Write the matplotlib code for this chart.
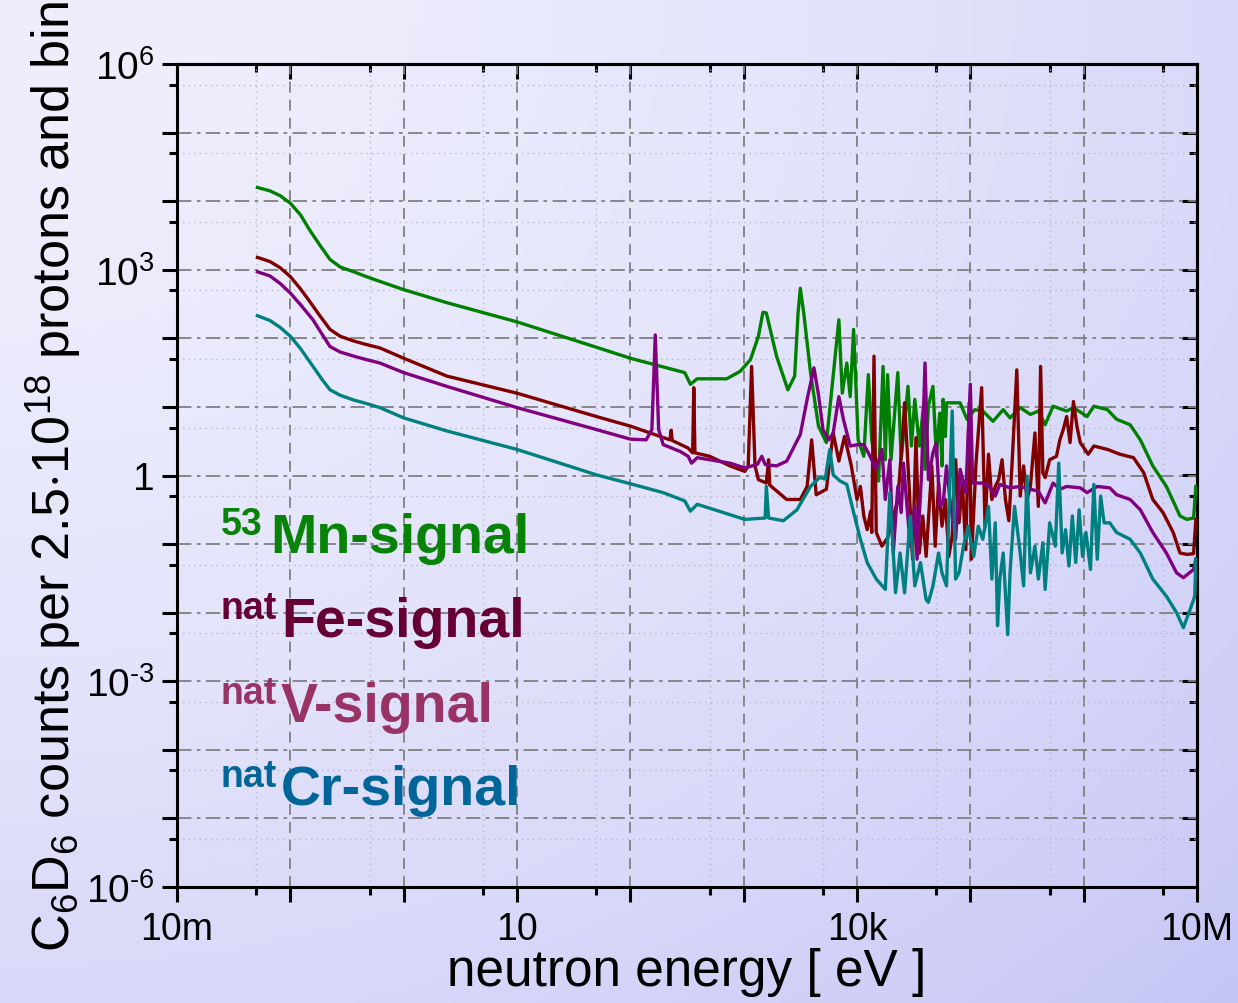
import matplotlib
matplotlib.use("Agg")
import matplotlib.pyplot as plt
import matplotlib.ticker as mticker
import numpy as np

plt.rcParams['font.family'] = ['Liberation Sans', 'DejaVu Sans']
plt.rcParams['mathtext.fontset'] = 'custom'
plt.rcParams['mathtext.rm'] = 'Liberation Sans'
plt.rcParams['mathtext.it'] = 'Liberation Sans:italic'
plt.rcParams['mathtext.bf'] = 'Liberation Sans:bold'

# values, as log10(energy / eV) and log10(counts)
mn_log_e = [-1.29, -1.18, -1.09, -1.00, -0.91, -0.83, -0.74, -0.65, -0.56, -0.44, -0.33, -0.21, 0.00,
            0.38, 1.00, 1.70, 2.00, 2.48, 2.53, 2.59,
            2.85, 2.97, 3.06, 3.13, 3.17, 3.20, 3.29, 3.39, 3.45, 3.48, 3.50, 3.53, 3.59, 3.66, 3.73,
            3.84, 3.87, 3.91, 3.94, 3.97, 4.01, 4.06, 4.10, 4.13, 4.19, 4.23, 4.25, 4.27, 4.30, 4.36,
            4.39, 4.45, 4.48, 4.51, 4.55, 4.59, 4.60, 4.63, 4.67, 4.70, 4.73, 4.75, 4.76, 4.78, 4.79,
            4.85, 4.91, 4.97, 5.04, 5.11, 5.20, 5.29, 5.35, 5.44, 5.53, 5.60, 5.66, 5.73, 5.85, 5.91,
            6.03, 6.09, 6.21, 6.29, 6.41, 6.50, 6.61, 6.73, 6.85, 6.91, 6.97, 6.99]
mn_log_c = [4.20, 4.15, 4.08, 3.97, 3.80, 3.58, 3.36, 3.15, 3.04, 2.97, 2.90, 2.83, 2.71,
            2.52, 2.24, 1.87, 1.71, 1.50, 1.33, 1.41,
            1.41, 1.52, 1.69, 2.03, 2.38, 2.37, 1.74, 1.25, 1.45, 2.37, 2.73, 2.37, 1.50, 0.72, 0.48,
            2.27, 1.20, 1.64, 1.15, 2.13, 0.52, 0.28, 1.47, 0.52, -0.08, 1.59, 0.23, 1.47, 0.23, 1.50,
            0.23, 1.30, 0.43, 1.11, 0.43, 1.06, 0.09, 1.01, 1.30, 0.28, 0.91, 0.14, 1.11, 0.57, 1.06,
            1.06, 1.06, 0.82, 0.96, 0.94, 0.79, 0.96, 0.84, 0.99, 0.89, 0.94, 0.74, 1.01, 0.94, 0.99,
            0.86, 1.01, 0.96, 0.82, 0.74, 0.52, 0.14, -0.16, -0.59, -0.64, -0.62, -0.16]

fe_log_e = [-1.29, -1.18, -1.09, -1.00, -0.91, -0.83, -0.74, -0.65, -0.56, -0.44, -0.33, -0.21, 0.00,
            0.38, 1.00, 1.70, 2.00, 2.35, 2.36, 2.37,
            2.51, 2.55, 2.56, 2.57, 2.70, 2.88, 3.01, 3.04, 3.07, 3.10, 3.13, 3.20, 3.22, 3.23, 3.38,
            3.50, 3.56, 3.60, 3.64, 3.73, 3.79, 3.84, 3.89, 3.95, 4.00, 4.03, 4.06, 4.09, 4.12, 4.13,
            4.15, 4.17, 4.22, 4.27, 4.30, 4.36, 4.40, 4.42, 4.46, 4.49, 4.52, 4.55, 4.58, 4.61, 4.66,
            4.69, 4.72, 4.75, 4.78, 4.81, 4.84, 4.87, 4.90, 4.93, 4.96, 4.99, 5.01, 5.05, 5.10, 5.13,
            5.16, 5.19, 5.22, 5.25, 5.28, 5.31, 5.34, 5.37, 5.41, 5.44, 5.47, 5.50, 5.53, 5.57, 5.60,
            5.62, 5.64, 5.66, 5.70, 5.76, 5.79, 5.82, 5.85, 5.88, 5.91, 5.94, 5.97, 6.04, 6.09, 6.21,
            6.32, 6.44, 6.53, 6.61, 6.70, 6.79, 6.85, 6.91, 6.97, 6.99]
fe_log_c = [3.18, 3.12, 3.03, 2.90, 2.72, 2.54, 2.33, 2.13, 2.03, 1.96, 1.91, 1.86, 1.71,
            1.45, 1.20, 0.86, 0.72, 0.52, 0.66, 0.51,
            0.40, 0.33, 1.28, 0.33, 0.28, 0.14, 0.06, 0.14, 1.59, 0.14, -0.06, -0.11, 0.23, -0.14, -0.35,
            -0.35, -0.16, 0.52, -0.28, -0.20, 0.62, 0.21, 0.57, 0.14, -0.35, -0.16, -0.59, -0.79, -0.52, -0.83,
            1.74, -0.83, -1.03, -0.91, -0.74, -0.35, 0.52, 1.06, -0.16, -1.22, 0.55, -1.13, -0.59, -1.18, 0.14,
            -1.03, -0.11, -0.74, -0.35, -1.18, -0.88, 0.23, -0.69, -0.11, -1.08, 1.06, -1.22, 0.18, 1.28, -0.74,
            0.31, -0.35, -0.16, -0.06, 0.23, -0.35, -0.66, 0.23, 1.54, -0.30, 0.14, -0.35, -0.16, 0.62, -0.45,
            1.59, 0.04, -0.03, 0.23, 0.28, 0.52, 0.67, 0.86, 0.48, 1.08, 0.72, 0.48, 0.31, 0.43, 0.38,
            0.31, 0.26, 0.04, -0.35, -0.54, -0.83, -1.13, -1.15, -1.14, -0.64]

v_log_e = [-1.29, -1.18, -1.09, -1.00, -0.91, -0.80, -0.72, -0.65, -0.56, -0.44, -0.33, -0.21, 0.00,
           0.38, 1.00, 1.70, 2.00, 2.14, 2.19, 2.22,
           2.25, 2.29, 2.44, 2.51, 2.54, 2.59, 2.88, 3.01, 3.12, 3.16, 3.19, 3.29, 3.38, 3.50, 3.56,
           3.62, 3.66, 3.70, 3.75, 3.79, 3.84, 3.88, 3.94, 4.01, 4.06, 4.10, 4.17, 4.22, 4.25, 4.29,
           4.32, 4.36, 4.39, 4.41, 4.47, 4.51, 4.53, 4.57, 4.60, 4.63, 4.67, 4.70, 4.73, 4.76, 4.79,
           4.82, 4.87, 4.91, 4.96, 5.00, 5.02, 5.11, 5.17, 5.22, 5.26, 5.35, 5.44, 5.53, 5.60, 5.66,
           5.73, 5.79, 5.85, 5.97, 6.03, 6.12, 6.23, 6.29, 6.41, 6.50, 6.61, 6.73, 6.82, 6.88, 6.97, 6.99]
v_log_c = [2.97, 2.91, 2.80, 2.66, 2.49, 2.27, 2.06, 1.88, 1.80, 1.74, 1.69, 1.64, 1.50,
           1.30, 0.99, 0.67, 0.53, 0.52, 0.67, 2.05,
           0.67, 0.45, 0.35, 0.28, 0.18, 0.26, 0.18, 0.11, 0.16, 0.28, 0.16, 0.14, 0.21, 0.60, 1.11,
           1.57, 1.18, 0.67, 0.52, 0.62, 1.15, 0.82, 0.43, 0.45, 0.45, 0.33, 0.09, 0.38, -0.35, 0.23,
           -1.13, -0.16, -0.54, 0.18, -1.03, -0.45, -1.22, 0.04, 1.64, -0.06, 0.33, 0.48, -0.45, -0.40, 0.14,
           -0.35, -0.93, 0.09, -0.25, 1.33, -0.11, -0.11, -0.16, -0.30, -0.13, -0.18, -0.16, -0.20, -0.23, -0.40,
           -0.11, -0.20, -0.16, -0.18, -0.25, -0.16, -0.18, -0.28, -0.35, -0.50, -0.83, -1.13, -1.42, -1.49, -1.37, -1.22]

cr_log_e = [-1.29, -1.18, -1.09, -1.00, -0.91, -0.80, -0.72, -0.65, -0.56, -0.44, -0.33, -0.21, 0.00,
            0.38, 1.00, 1.70, 2.00, 2.29, 2.48, 2.53,
            2.59, 2.82, 3.01, 3.19, 3.20, 3.22, 3.35, 3.47, 3.59, 3.67, 3.72, 3.76, 3.79, 3.85, 3.91,
            3.97, 4.03, 4.09, 4.17, 4.25, 4.29, 4.34, 4.38, 4.42, 4.47, 4.51, 4.56, 4.61, 4.63, 4.67,
            4.72, 4.75, 4.79, 4.84, 4.87, 4.90, 4.94, 4.98, 5.03, 5.07, 5.11, 5.16, 5.19, 5.22, 5.24,
            5.26, 5.29, 5.33, 5.35, 5.39, 5.44, 5.47, 5.50, 5.53, 5.57, 5.60, 5.64, 5.66, 5.70, 5.75,
            5.78, 5.81, 5.84, 5.87, 5.90, 5.93, 5.96, 5.99, 6.02, 6.06, 6.09, 6.12, 6.15, 6.18, 6.23,
            6.29, 6.41, 6.50, 6.61, 6.73, 6.82, 6.88, 6.94, 6.98, 6.99]
cr_log_c = [2.33, 2.26, 2.16, 2.03, 1.85, 1.59, 1.40, 1.25, 1.17, 1.10, 1.05, 0.99, 0.84,
            0.65, 0.38, 0.01, -0.12, -0.25, -0.37, -0.52,
            -0.42, -0.54, -0.64, -0.62, -0.16, -0.62, -0.66, -0.50, -0.16, -0.03, -0.05, 0.38, 0.01, -0.08, -0.13,
            -0.54, -0.93, -1.27, -1.51, -1.66, -0.25, -1.71, -1.13, -1.71, -0.59, -1.61, -1.27, -1.81, -1.85, -1.61,
            -1.13, -1.42, -1.61, 0.94, -1.51, -1.42, -1.03, -0.74, -1.18, -0.74, -0.93, -0.45, -1.51, -0.69, -2.19,
            -1.51, -1.13, -2.32, -1.42, -0.45, -1.13, -1.61, -0.01, -1.42, -1.03, -1.51, -0.98, -1.66, -0.69, -1.03,
            0.18, -1.13, -0.79, -1.32, -0.59, -1.27, -0.50, -1.18, -0.83, -1.37, -0.13, -1.22, -0.30, -0.69, -0.69,
            -0.83, -0.93, -1.13, -1.51, -1.76, -2.00, -2.22, -1.95, -1.76, -1.22]

x_labels = {-2: '10m', 1: '10', 4: '10k', 7: '10M'}
y_labels = {-6: r'$10^{\text{-}6}$', -3: r'$10^{\text{-}3}$', 0: '1', 3: r'$10^{3}$', 6: r'$10^{6}$'}

fig = plt.figure(figsize=(12.38, 10.04), dpi=100)

# background gradient over the whole figure
bg = fig.add_axes([0, 0, 1, 1], zorder=-5)
gx, gy = np.meshgrid(np.linspace(0, 1, 300), np.linspace(0, 1, 300))
t = np.clip((gx ** 2 + gy ** 2) / 2, 0, 1) ** 0.9
c0 = np.array([238, 238, 253]) / 255
c1 = np.array([198, 198, 246]) / 255
img = c0 + (c1 - c0) * t[..., None]
bg.imshow(img, aspect='auto', extent=[0, 1, 0, 1], origin='upper')
bg.axis('off')

ax = fig.add_axes([177 / 1238, 1 - 888 / 1004, 1020 / 1238, 823 / 1004])
ax.set_facecolor('none')

series = [
    (mn_log_e, mn_log_c, '#008000'),
    (fe_log_e, fe_log_c, '#800000'),
    (v_log_e, v_log_c, '#800080'),
    (cr_log_e, cr_log_c, '#008080'),
]
for le, lc, col in series:
    ax.plot(10 ** np.array(le), 10 ** np.array(lc), color=col, lw=2.4, zorder=3,
            solid_joinstyle='round')

ax.set_xscale('log')
ax.set_yscale('log')
ax.set_xlim(1e-2, 1e7)
ax.set_ylim(1e-6, 1e6)

x_major = [10.0 ** k for k in range(-2, 8)]
x_minor = [5 * 10.0 ** k for k in range(-2, 7)]
y_major = [10.0 ** k for k in range(-6, 7)]
y_minor = [5 * 10.0 ** k for k in range(-6, 6)]

ax.xaxis.set_major_locator(mticker.FixedLocator(x_major))
ax.xaxis.set_minor_locator(mticker.FixedLocator(x_minor))
ax.yaxis.set_major_locator(mticker.FixedLocator(y_major))
ax.yaxis.set_minor_locator(mticker.FixedLocator(y_minor))
ax.xaxis.set_major_formatter(mticker.FuncFormatter(
    lambda v, p: x_labels.get(int(round(np.log10(v))), '')))
ax.yaxis.set_major_formatter(mticker.FuncFormatter(
    lambda v, p: y_labels.get(int(round(np.log10(v))), '')))
ax.xaxis.set_minor_formatter(mticker.NullFormatter())
ax.yaxis.set_minor_formatter(mticker.NullFormatter())

ax.tick_params(which='major', direction='out', length=11, width=2.2)
ax.tick_params(which='minor', direction='out', length=5.5, width=2.2)
ax.tick_params(axis='x', which='major', labelsize=27, pad=6)
ax.tick_params(axis='y', which='major', labelsize=28, pad=5)

for s in ax.spines.values():
    s.set_linewidth(2.2)

# mirrored ticks pointing inwards on top and right
top = ax.secondary_xaxis('top')
right = ax.secondary_yaxis('right')
top.xaxis.set_major_locator(mticker.FixedLocator(x_major))
top.xaxis.set_minor_locator(mticker.FixedLocator(x_minor))
right.yaxis.set_major_locator(mticker.FixedLocator(y_major))
right.yaxis.set_minor_locator(mticker.FixedLocator(y_minor))
for sec in (top, right):
    sec.tick_params(which='major', direction='in', length=11, width=2.2,
                    labeltop=False, labelright=False)
    sec.tick_params(which='minor', direction='in', length=5.5, width=2.2)
    for s in sec.spines.values():
        s.set_linewidth(2.2)
top.xaxis.set_major_formatter(mticker.NullFormatter())
top.xaxis.set_minor_formatter(mticker.NullFormatter())
right.yaxis.set_major_formatter(mticker.NullFormatter())
right.yaxis.set_minor_formatter(mticker.NullFormatter())

ax.xaxis.grid(True, which='major', color='#808080', lw=1.3, ls=(0, (6, 4)))
ax.yaxis.grid(True, which='major', color='#808080', lw=1.3, ls=(0, (8, 3, 2, 3)))
ax.xaxis.grid(True, which='minor', color='#b8b8c8', lw=1.0, ls=(0, (1, 3)))
ax.yaxis.grid(True, which='minor', color='#b8b8c8', lw=1.0, ls=(0, (1, 3)))
ax.set_axisbelow(True)

ax.set_xlabel('neutron energy [ eV ]', fontsize=37, labelpad=0)
ax.set_ylabel(r'C$_6$D$_6$ counts per 2.5$\cdot$10$^{18}$ protons and bin', fontsize=37.5)
ax.yaxis.set_label_coords(-0.092, 0.5)

# curve labels
labels = [
    ('53', 'Mn-signal', '#078307', 0.407),
    ('nat', 'Fe-signal', '#660033', 0.305),
    ('nat', 'V-signal', '#993366', 0.202),
    ('nat', 'Cr-signal', '#006699', 0.101),
]
for sup, main, col, yb in labels:
    ax.text(0.043, yb + 0.022, sup, transform=ax.transAxes, color=col, fontsize=27,
            fontweight='bold', va='baseline', ha='left', zorder=5)
    x_main = 0.091 if sup == '53' else 0.102
    ax.text(x_main, yb, main, transform=ax.transAxes, color=col, fontsize=40,
            fontweight='bold', va='baseline', ha='left', zorder=5)

fig.savefig('out.png', dpi=100)
